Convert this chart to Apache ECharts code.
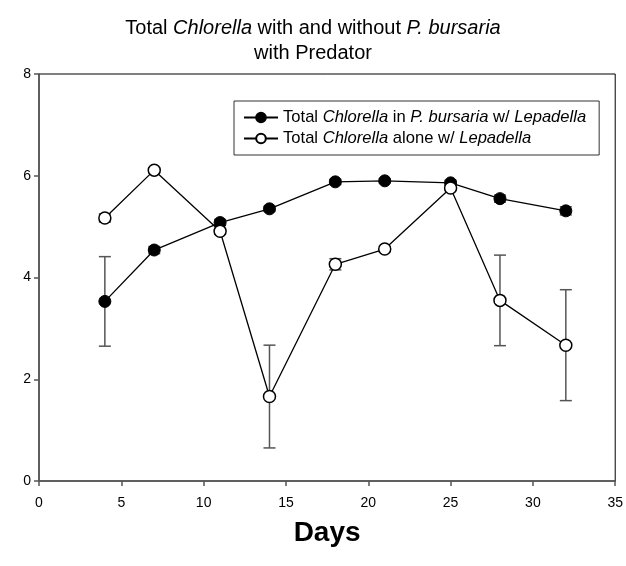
<!DOCTYPE html>
<html>
<head>
<meta charset="utf-8">
<script src="https://cdn.jsdelivr.net/npm/echarts@6/dist/echarts.min.js"></script>
<style>
  html, body { margin: 0; padding: 0; background: #fff; }
  #chart { width: 626px; height: 566px; }
</style>
</head>
<body>
<div id="chart"></div>
<script>
// Sampling days
const days = [4, 7, 11, 14, 18, 21, 25, 28, 32];
// Total Chlorella in P. bursaria with Lepadella (mean, error)
const withBursaria = [3.53, 4.54, 5.08, 5.35, 5.88, 5.90, 5.86, 5.55, 5.31];
const withBursariaErr = [0.88, 0.07, 0.06, 0.05, 0.05, 0.04, 0.05, 0.07, 0.08];
// Total Chlorella alone with Lepadella (mean, error)
const alone = [5.17, 6.11, 4.91, 1.66, 4.26, 4.56, 5.76, 3.55, 2.67];
const aloneErr = [0.08, 0.05, 0.06, 1.01, 0.11, 0.05, 0.04, 0.89, 1.09];
// Axis ticks
const xTicks = { min: 0, max: 35, interval: 5 };
const yTicks = { min: 0, max: 8, interval: 2 };

const FONT = 'Liberation Sans, Arial, sans-serif';

function pairs(ys) { return days.map((d, i) => [d, ys[i]]); }
function errData(ys, es) { return days.map((d, i) => [d, ys[i] - es[i], ys[i] + es[i]]); }

function errorBars(name, ys, es) {
  return {
    type: 'custom',
    name: name + ' err',
    data: errData(ys, es),
    z: 1,
    silent: true,
    renderItem: function (params, api) {
      const lo = api.coord([api.value(0), api.value(1)]);
      const hi = api.coord([api.value(0), api.value(2)]);
      const cap = 6;
      const style = { stroke: '#555', lineWidth: 1.5, fill: null };
      return {
        type: 'group',
        children: [
          { type: 'line', shape: { x1: lo[0], y1: lo[1], x2: hi[0], y2: hi[1] }, style: style },
          { type: 'line', shape: { x1: lo[0] - cap, y1: lo[1], x2: lo[0] + cap, y2: lo[1] }, style: style },
          { type: 'line', shape: { x1: hi[0] - cap, y1: hi[1], x2: hi[0] + cap, y2: hi[1] }, style: style }
        ]
      };
    }
  };
}

const LEG_SIZE = 16.6;
const richText = {
  n: { fontFamily: FONT, fontSize: LEG_SIZE, lineHeight: 18, color: '#000' },
  i: { fontFamily: FONT, fontSize: LEG_SIZE, lineHeight: 18, color: '#000', fontStyle: 'italic' }
};

const legendNames = {
  'withBursaria': '{n|Total }{i|Chlorella}{n| in }{i|P. bursaria}{n| w/ }{i|Lepadella}',
  'alone': '{n|Total }{i|Chlorella}{n| alone w/ }{i|Lepadella}'
};

const chart = echarts.init(document.getElementById('chart'), null, { renderer: 'canvas' });
chart.setOption({
  animation: false,
  backgroundColor: '#fff',
  title: [
    {
      text: '{n|Total }{i|Chlorella}{n| with and without }{i|P. bursaria}',
      left: 'center', top: 13,
      textStyle: {
        fontWeight: 'normal',
        rich: {
          n: { fontFamily: FONT, fontSize: 20, fontWeight: 'normal', color: '#000' },
          i: { fontFamily: FONT, fontSize: 20, fontWeight: 'normal', color: '#000', fontStyle: 'italic' }
        }
      }
    },
    {
      text: 'with Predator',
      left: 'center', top: 38,
      textStyle: { fontFamily: FONT, fontSize: 20, fontWeight: 'normal', color: '#000' }
    }
  ],
  legend: {
    orient: 'vertical',
    left: 234, top: 101,
    padding: [8, 13, 8, 9],
    itemGap: 4,
    itemWidth: 34,
    itemHeight: 12,
    borderColor: '#333',
    borderWidth: 1,
    backgroundColor: '#fff',
    data: ['withBursaria', 'alone'],
    formatter: function (name) { return legendNames[name]; },
    textStyle: { rich: richText }
  },
  grid: {
    left: 39, right: 10, top: 74, bottom: 85,
    show: true, borderColor: '#000', borderWidth: 1
  },
  xAxis: {
    type: 'value',
    min: xTicks.min, max: xTicks.max, interval: xTicks.interval,
    name: 'Days',
    nameLocation: 'middle',
    nameGap: 38,
    nameTextStyle: { fontFamily: FONT, fontSize: 28, fontWeight: 'bold', color: '#000' },
    axisLine: { show: true, lineStyle: { color: '#555', width: 1.5 } },
    axisTick: { show: true, inside: false, length: 5, lineStyle: { color: '#555', width: 1.5 } },
    axisLabel: { fontFamily: FONT, fontSize: 14, color: '#000', margin: 15 },
    splitLine: { show: false }
  },
  yAxis: {
    type: 'value',
    min: yTicks.min, max: yTicks.max, interval: yTicks.interval,
    axisLine: { show: true, lineStyle: { color: '#555', width: 1.5 } },
    axisTick: { show: true, inside: false, length: 5, lineStyle: { color: '#555', width: 1.5 } },
    axisLabel: { fontFamily: FONT, fontSize: 14, color: '#000', margin: 8 },
    splitLine: { show: false }
  },
  series: [
    errorBars('withBursaria', withBursaria, withBursariaErr),
    errorBars('alone', alone, aloneErr),
    {
      type: 'line',
      name: 'withBursaria',
      data: pairs(withBursaria),
      z: 3,
      symbol: 'circle',
      symbolSize: 12,
      lineStyle: { color: '#000', width: 1.3 },
      itemStyle: { color: '#000', borderColor: '#000', borderWidth: 1 }
    },
    {
      type: 'line',
      name: 'alone',
      data: pairs(alone),
      z: 4,
      symbol: 'circle',
      symbolSize: 12,
      showAllSymbol: true,
      lineStyle: { color: '#000', width: 1.3 },
      itemStyle: { color: '#fff', borderColor: '#000', borderWidth: 1.5 }
    }
  ]
});
</script>
</body>
</html>
